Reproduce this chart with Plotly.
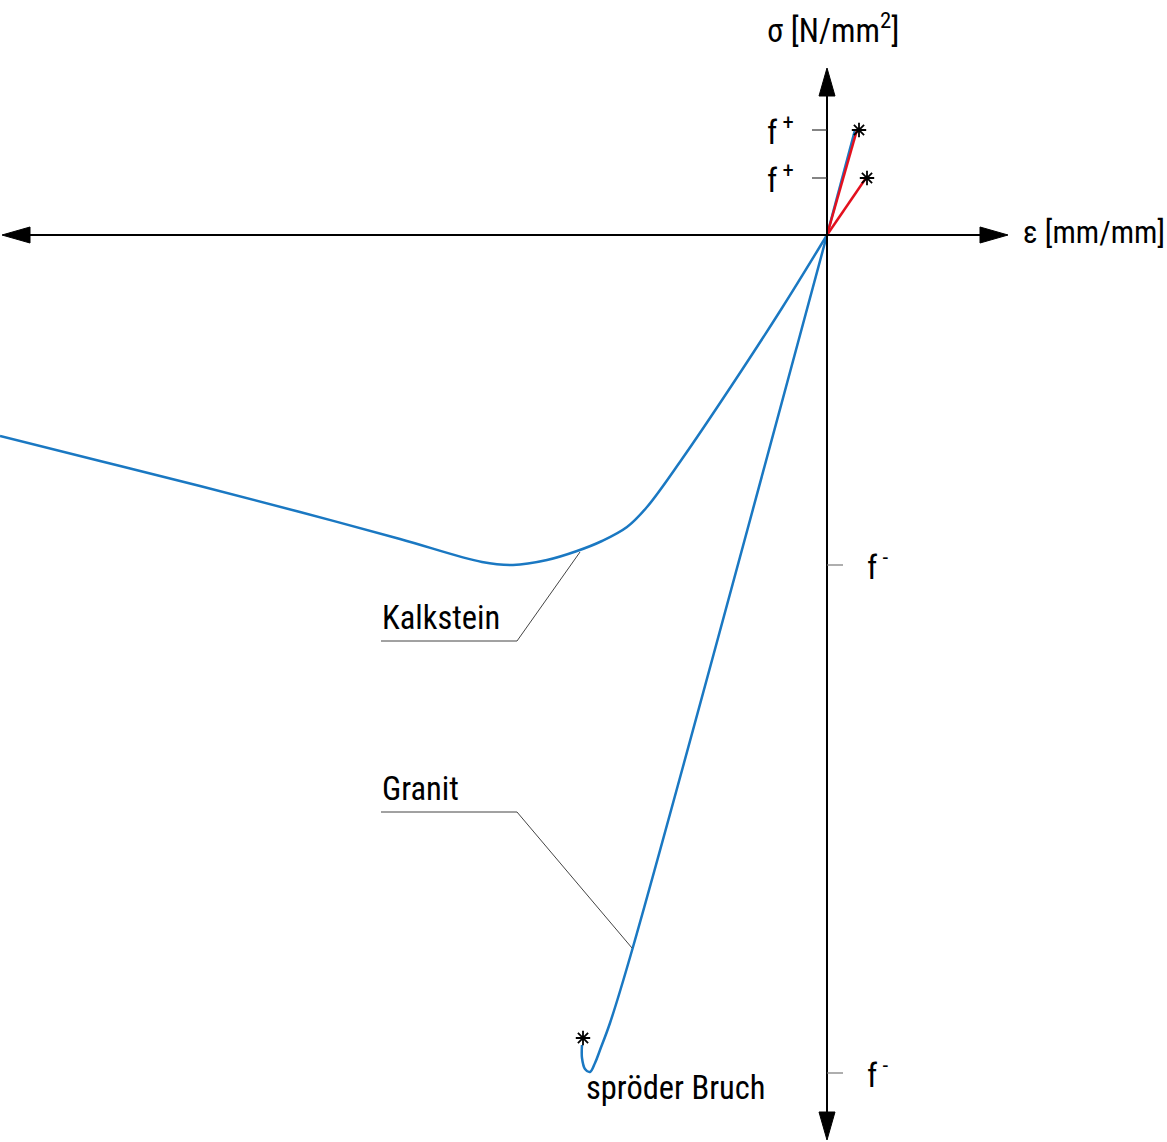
import plotly.graph_objects as go

# Schematic stress-strain curves (strain to the right, stress upward; units are arbitrary)
kalk_eps = [0, -45, -95, -145, -180, -200, -225, -250, -280, -314, -345, -427, -527, -627, -727, -827]
kalk_sig = [0, -73, -150, -224, -272, -292, -306, -316, -325, -330, -327, -304, -277, -251, -226, -201]

granit_eps = [0, -194, -217, -227, -232, -237, -242, -245, -245]
granit_sig = [0, -712, -788, -815, -828, -837, -834, -823, -810]

# Tensile branches up to failure
tension_eps = [30, 39]
tension_sig = [105, 57]

# Failure points (tension and brittle compression failure)
fail_eps = [32, 40, -244]
fail_sig = [105, 57, -803]

# Strength levels marked on the stress axis
f_plus = [105, 57]
f_minus = [-330, -838]

x_title = "ε [mm/mm]"
y_title = "σ [N/mm<sup>2</sup>]"
label_kalk = "Kalkstein"
label_granit = "Granit"
label_bruch = "spröder Bruch"

# Axis geometry (drawing units)
X_LO, X_HI = -827, 340
Y_LO, Y_HI = -907, 235
AX_L, AX_R = -825, 181
AX_B, AX_T = -905, 167
HEAD_L, HEAD_W = 28, 8

BLUE = "#1a78c2"
RED = "#e3101e"
FONT = "Liberation Sans Narrow, Arial Narrow, Roboto Condensed, Liberation Sans, sans-serif"

fig = go.Figure()

# Blue elastic tension branch underneath the upper red line
fig.add_trace(go.Scatter(x=[0, tension_eps[0] - 2], y=[0, tension_sig[0]], mode="lines",
                         line=dict(color=BLUE, width=2.5), hoverinfo="skip"))

fig.add_trace(go.Scatter(x=kalk_eps, y=kalk_sig, mode="lines", line_shape="spline",
                         line=dict(color=BLUE, width=2.5, smoothing=1.0), name=label_kalk))
fig.add_trace(go.Scatter(x=granit_eps, y=granit_sig, mode="lines", line_shape="spline",
                         line=dict(color=BLUE, width=2.5), name=label_granit))

for e, s in zip(tension_eps, tension_sig):
    fig.add_trace(go.Scatter(x=[0, e], y=[0, s], mode="lines",
                             line=dict(color=RED, width=2.5), hoverinfo="skip"))

fig.add_trace(go.Scatter(x=fail_eps, y=fail_sig, mode="markers",
                         marker=dict(symbol="asterisk-open", size=12, color="black",
                                     line=dict(color="black", width=1.8)),
                         hoverinfo="skip"))

shapes = []
# Axes lines
shapes.append(dict(type="line", x0=AX_L + HEAD_L, x1=AX_R - HEAD_L, y0=0, y1=0,
                   line=dict(color="black", width=2)))
shapes.append(dict(type="line", x0=0, x1=0, y0=AX_B + HEAD_L, y1=AX_T - HEAD_L,
                   line=dict(color="black", width=2)))
# Arrow heads
for path in [
    f"M {AX_R} 0 L {AX_R - HEAD_L} {HEAD_W} L {AX_R - HEAD_L} {-HEAD_W} Z",
    f"M {AX_L} 0 L {AX_L + HEAD_L} {HEAD_W} L {AX_L + HEAD_L} {-HEAD_W} Z",
    f"M 0 {AX_T} L {HEAD_W} {AX_T - HEAD_L} L {-HEAD_W} {AX_T - HEAD_L} Z",
    f"M 0 {AX_B} L {HEAD_W} {AX_B + HEAD_L} L {-HEAD_W} {AX_B + HEAD_L} Z",
]:
    shapes.append(dict(type="path", path=path, fillcolor="black", line=dict(color="black", width=1)))

# Strength ticks
for s in f_plus:
    shapes.append(dict(type="line", x0=-15, x1=0, y0=s, y1=s, line=dict(color="#333333", width=1.2)))
for s in f_minus:
    shapes.append(dict(type="line", x0=0, x1=16, y0=s, y1=s, line=dict(color="#777777", width=1.2)))

# Leader lines for curve labels
shapes.append(dict(type="path", path="M -446 -406 L -310 -406 L -247 -317",
                   line=dict(color="#444444", width=1)))
shapes.append(dict(type="path", path="M -446 -577 L -310 -577 L -195 -713",
                   line=dict(color="#444444", width=1)))

ann = []
font = dict(family=FONT, size=32.5, color="black")
for s in f_plus:
    ann.append(dict(x=-31, y=s, text="f<sup> +</sup>", showarrow=False, xanchor="right",
                    yanchor="middle", font=font))
for s in f_minus:
    ann.append(dict(x=38, y=s, text="f<sup> -</sup>", showarrow=False, xanchor="left",
                    yanchor="middle", font=font))
ann.append(dict(x=6, y=207, text=y_title, showarrow=False, xanchor="center", yanchor="middle", font=font))
ann.append(dict(x=194, y=3, text=x_title, showarrow=False, xanchor="left", yanchor="middle",
                font=dict(family=FONT, size=31, color="black")))
ann.append(dict(x=-447, y=-383, text=label_kalk, showarrow=False, xanchor="left", yanchor="middle", font=font))
ann.append(dict(x=-447, y=-554, text=label_granit, showarrow=False, xanchor="left", yanchor="middle", font=font))
ann.append(dict(x=-243, y=-853, text=label_bruch, showarrow=False, xanchor="left", yanchor="middle", font=font))

fig.update_layout(
    width=1167, height=1142,
    margin=dict(l=0, r=0, t=0, b=0),
    paper_bgcolor="white", plot_bgcolor="white",
    showlegend=False,
    xaxis=dict(range=[X_LO, X_HI], visible=False, fixedrange=True),
    yaxis=dict(range=[Y_LO, Y_HI], visible=False, fixedrange=True),
    shapes=shapes, annotations=ann,
)

fig.write_html("out.html")
